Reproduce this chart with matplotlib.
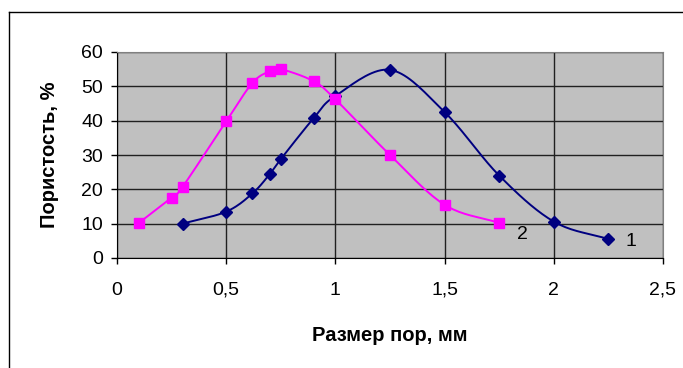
import numpy as np
import matplotlib
matplotlib.use("Agg")
from matplotlib import pyplot as plt
from matplotlib.lines import Line2D

# data
x1 = [0.3, 0.5, 0.62, 0.7, 0.75, 0.9, 1.0, 1.25, 1.5, 1.75, 2.0, 2.25]
y1 = [10, 13.5, 18.8, 24.5, 28.8, 40.7, 47.2, 54.8, 42.5, 24, 10.6, 5.5]
x2 = [0.1, 0.25, 0.3, 0.5, 0.62, 0.7, 0.75, 0.9, 1.0, 1.25, 1.5, 1.75]
y2 = [10.2, 17.6, 20.7, 39.8, 51, 54.4, 55, 51.5, 46.2, 30, 15.5, 10.2]
x_ticks = [0, 0.5, 1, 1.5, 2, 2.5]
x_tick_labels = ["0", "0,5", "1", "1,5", "2", "2,5"]
y_ticks = [0, 10, 20, 30, 40, 50, 60]


def smooth(x, y, n=20):
    # catmull-rom style smoothing like excel "smoothed line"
    x = np.asarray(x, float)
    y = np.asarray(y, float)
    px = np.concatenate([[2 * x[0] - x[1]], x, [2 * x[-1] - x[-2]]])
    py = np.concatenate([[2 * y[0] - y[1]], y, [2 * y[-1] - y[-2]]])
    xs, ys = [], []
    t = np.linspace(0, 1, n)
    for i in range(1, len(px) - 2):
        for p, out in ((px, xs), (py, ys)):
            p0, p1, p2, p3 = p[i - 1], p[i], p[i + 1], p[i + 2]
            m1 = (p2 - p0) / 6
            m2 = (p3 - p1) / 6
            b = ((1 - t) ** 3 * p1 + 3 * (1 - t) ** 2 * t * (p1 + m1)
                 + 3 * (1 - t) * t ** 2 * (p2 - m2) + t ** 3 * p2)
            out.extend(b)
    return np.array(xs), np.array(ys)


plt.rcParams['font.family'] = ['Liberation Sans', 'DejaVu Sans']

fig = plt.figure(figsize=(6.83, 3.68), dpi=100)
ax = fig.add_axes([117 / 683, 1 - 258 / 368, 546 / 683, 206 / 368])
ax.set_facecolor('#c0c0c0')

sx, sy = smooth(x1, y1)
ax.plot(sx, sy, color='#000080', lw=1.4, zorder=3)
ax.plot(x1, y1, 'D', color='#000080', ms=6.5, zorder=4)
sx, sy = smooth(x2, y2)
ax.plot(sx, sy, color='#ff00ff', lw=1.4, zorder=3)
ax.plot(x2, y2, 's', color='#ff00ff', ms=7, zorder=4)

ax.text(x1[-1] + 0.08, y1[-1] - 0.8, "1", fontsize=14, va='center', ha='left')
ax.text(x2[-1] + 0.08, y2[-1] - 3.3, "2", fontsize=14, va='center', ha='left')

ax.set_xlim(0, 2.5)
ax.set_ylim(0, 60)
ax.set_xticks(x_ticks)
ax.set_xticklabels(x_tick_labels)
ax.set_yticks(y_ticks)
ax.grid(True, color='#202020', lw=1)
ax.set_axisbelow(True)
ax.tick_params(direction='out', length=4, width=1, labelsize=14, pad=6)
ax.tick_params(axis='x', pad=13)
for s in ['top', 'right']:
    ax.spines[s].set_color('#808080')
for s in ['left', 'bottom']:
    ax.spines[s].set_color('black')

ax.set_xlabel("Размер пор, мм", fontsize=14.5, fontweight='bold', labelpad=20)
ax.set_ylabel("Пористость, %", fontsize=14.5, fontweight='bold', labelpad=16)

# outer chart frame
fig.add_artist(Line2D([9 / 683, 1], [1 - 12 / 368] * 2, color='black', lw=1,
                      transform=fig.transFigure))
fig.add_artist(Line2D([9 / 683] * 2, [0, 1 - 12 / 368], color='black', lw=1,
                      transform=fig.transFigure))

plt.savefig('out.png', dpi=100)
